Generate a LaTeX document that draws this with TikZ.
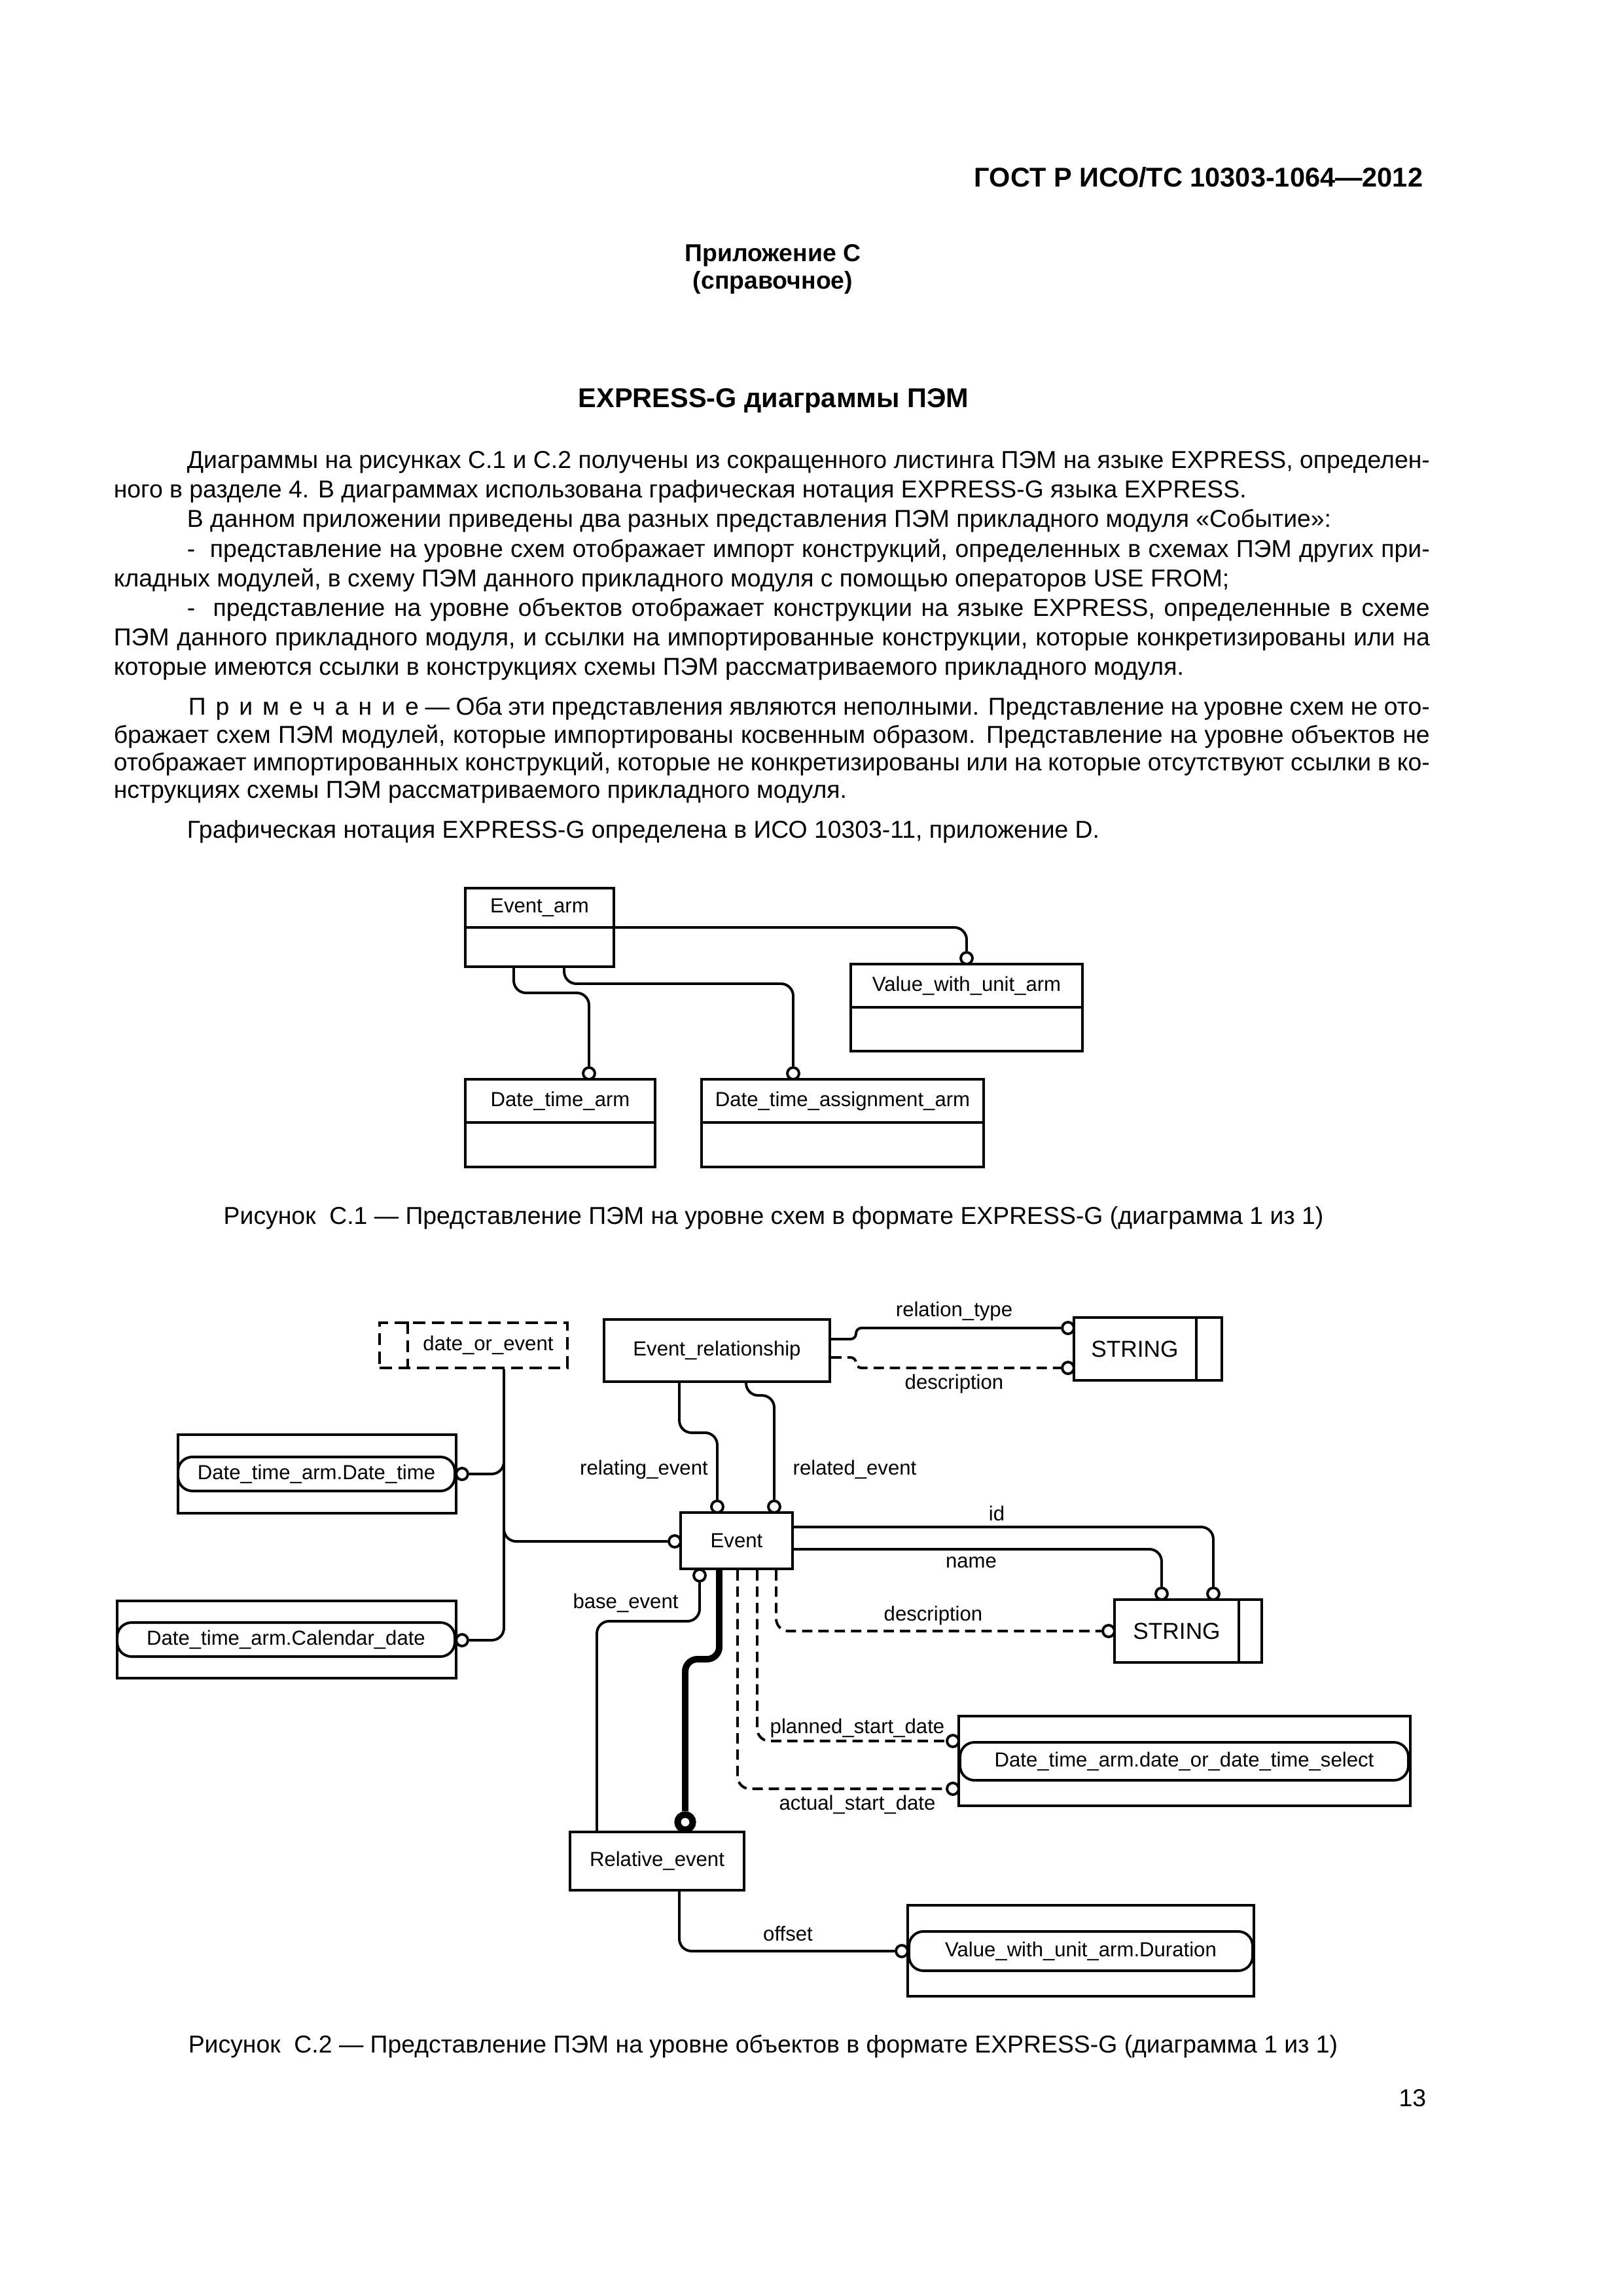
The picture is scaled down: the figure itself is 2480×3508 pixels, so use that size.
\documentclass[tikz,border=0pt]{standalone}
\usepackage{fontspec}
\setmainfont{Liberation Sans}
\usetikzlibrary{positioning,fit,calc}
\newdimen\pxu \pxu=0.084667mm

\begin{document}
\begin{tikzpicture}[x=0.084667mm,y=-0.084667mm,
                txt/.style={inner sep=0pt,font=\fontsize{9}{10.8}\selectfont},
                lbl/.style={inner sep=0pt,font=\fontsize{7.5}{9}\selectfont},
                ent/.style={draw,line width=0.95pt,inner sep=0pt},
                pill/.style={ent,rounded corners=5.3pt},
                dbox/.style={ent,dash pattern=on 4.5pt off 2.4pt},
                oc/.style={circle,draw,fill=white,line width=0.95pt,
                           inner sep=0pt,minimum size=4.3pt},
                boc/.style={oc,line width=2.4pt,minimum size=5.6pt},
                conn/.style={line width=0.95pt,rounded corners=4.5pt},
                dconn/.style={conn,dash pattern=on 3.8pt off 2.2pt},
                sub/.style={line width=2.4pt,rounded corners=4.5pt}]
\useasboundingbox[fill=white] (0,0) rectangle (2480,3508);

% шапка и текст
\node[txt,anchor=base east,font=\fontsize{10}{12}\selectfont\bfseries]
     (gost) at (2175,285) {ГОСТ Р ИСО/ТС 10303-1064—2012};
\node[txt,anchor=base,font=\fontsize{9}{10.8}\selectfont\bfseries]
     (app) at (1181,399) {Приложение С};
\node[txt,anchor=base,font=\fontsize{9}{10.8}\selectfont\bfseries]
     (appref) at (1181,441) {(справочное)};
\node[txt,anchor=base,font=\fontsize{10}{12}\selectfont\bfseries]
     (title) at (1182,622) {EXPRESS-G диаграммы ПЭМ};

\node[txt,anchor=base west] (p1) at (285,715) {\makebox[1899\pxu][s]{Диаграммы на рисунках С.1 и С.2 получены из сокращенного листинга ПЭМ на языке EXPRESS, определен-}};
\node[txt,anchor=base west] (p2) at (173,760) {ного в разделе 4. В диаграммах использована графическая нотация EXPRESS-G языка EXPRESS.};
\node[txt,anchor=base west] (p3) at (285,805) {В данном приложении приведены два разных представления ПЭМ прикладного модуля «Событие»:};
\node[txt,anchor=base west] (p4) at (285,851) {\makebox[1899\pxu][s]{-\ \ представление на уровне схем отображает импорт конструкций, определенных в схемах ПЭМ других при-}};
\node[txt,anchor=base west] (p5) at (173,896) {кладных модулей, в схему ПЭМ данного прикладного модуля с помощью операторов USE FROM;};
\node[txt,anchor=base west] (p6) at (285,941) {\makebox[1899\pxu][s]{-\ \ представление на уровне объектов отображает конструкции на языке EXPRESS, определенные в схеме}};
\node[txt,anchor=base west] (p7) at (173,986) {\makebox[2011\pxu][s]{ПЭМ данного прикладного модуля, и ссылки на импортированные конструкции, которые конкретизированы или на}};
\node[txt,anchor=base west] (p8) at (173,1031) {которые имеются ссылки в конструкциях схемы ПЭМ рассматриваемого прикладного модуля.};
\node[txt,anchor=base west] (n1) at (287,1092) {\makebox[1897\pxu][s]{П\kern3.6pt р\kern3.6pt и\kern3.6pt м\kern3.6pt е\kern3.6pt ч\kern3.6pt а\kern3.6pt н\kern3.6pt и\kern3.6pt е — Оба эти представления являются неполными. Представление на уровне схем не ото-}};
\node[txt,anchor=base west] (n2) at (173,1135) {\makebox[2011\pxu][s]{бражает схем ПЭМ модулей, которые импортированы косвенным образом. Представление на уровне объектов не}};
\node[txt,anchor=base west] (n3) at (173,1177) {\makebox[2011\pxu][s]{отображает импортированных конструкций, которые не конкретизированы или на которые отсутствуют ссылки в ко-}};
\node[txt,anchor=base west] (n4) at (173,1219) {нструкциях схемы ПЭМ рассматриваемого прикладного модуля.};
\node[txt,anchor=base west] (p9) at (285,1280) {Графическая нотация EXPRESS-G определена в ИСО 10303-11, приложение D.};

% рисунок С.1
\node[ent,fit={(711,1357) (938,1477)}] (evarm) {};
\draw[ent] (evarm.west |- 0,1417) -- (evarm.east |- 0,1417);
\node[lbl] (evarmt) at (824.5,1387) {Event\_arm};
\node[ent,fit={(1300,1473) (1654,1606)}] (vwu) {};
\draw[ent] (vwu.west |- 0,1539) -- (vwu.east |- 0,1539);
\node[lbl] (vwut) at (1477,1506) {Value\_with\_unit\_arm};
\node[ent,fit={(711,1649) (1001,1783)}] (dta) {};
\draw[ent] (dta.west |- 0,1715) -- (dta.east |- 0,1715);
\node[lbl] (dtat) at (856,1682) {Date\_time\_arm};
\node[ent,fit={(1072,1649) (1503,1783)}] (dtas) {};
\draw[ent] (dtas.west |- 0,1715) -- (dtas.east |- 0,1715);
\node[lbl] (dtast) at (1287.5,1682) {Date\_time\_assignment\_arm};

\node[oc] (cvwu) at (1477,1464) {};
\node[oc] (cdta) at (900,1640) {};
\node[oc] (cdtas) at (1212,1640) {};
\draw[conn] (evarm.east |- 0,1417) -| (cvwu);
\draw[conn] (evarm.south -| 785,0) |- (cdta |- 0,1517) -- (cdta);
\draw[conn] (evarm.south -| 862,0) |- (cdtas |- 0,1503) -- (cdtas);

\node[txt,anchor=base] (cap1) at (1182,1870) {Рисунок\ \ С.1 — Представление ПЭМ на уровне схем в формате EXPRESS-G (диаграмма 1 из 1)};

% рисунок С.2
\node[dbox,fit={(580,2021) (867,2090)}] (doe) {};
\draw[dbox] (doe.north -| 623,0) -- (doe.south -| 623,0);
\node[lbl] (doet) at (746,2055) {date\_or\_event};
\node[ent,fit={(923,2016) (1268,2111)}] (evrel) {};
\node[lbl] (evrelt) at (evrel) {Event\_relationship};
\node[ent,fit={(1641,2013) (1867,2109)}] (str1) {};
\draw[ent] (str1.north -| 1828,0) -- (str1.south -| 1828,0);
\node[lbl,font=\fontsize{8.5}{10}\selectfont] (str1t) at (1734,2061) {STRING};
\node[ent,fit={(1040,2311) (1211,2397)}] (ev) {};
\node[lbl] (evt) at (ev) {Event};
\node[ent,fit={(272,2192) (697,2312)}] (dtdtbox) {};
\node[pill,fit={(272,2226) (695,2278)}] (dtdt) {};
\node[lbl] (dtdtt) at (dtdt) {Date\_time\_arm.Date\_time};
\node[ent,fit={(179,2446) (697,2564)}] (calbox) {};
\node[pill,fit={(179,2479) (695,2531)}] (cal) {};
\node[lbl] (calt) at (cal) {Date\_time\_arm.Calendar\_date};
\node[ent,fit={(1703,2444) (1928,2540)}] (str2) {};
\draw[ent] (str2.north -| 1893,0) -- (str2.south -| 1893,0);
\node[lbl,font=\fontsize{8.5}{10}\selectfont] (str2t) at (1798,2492) {STRING};
\node[ent,fit={(1465,2622) (2155,2759)}] (selbox) {};
\node[pill,fit={(1467,2662) (2152,2720)}] (sel) {};
\node[lbl] (selt) at (sel) {Date\_time\_arm.date\_or\_date\_time\_select};
\node[ent,fit={(871,2799) (1137,2888)}] (rel) {};
\node[lbl] (relt) at (rel) {Relative\_event};
\node[ent,fit={(1387,2911) (1916,3050)}] (durbox) {};
\node[pill,fit={(1389,2951) (1914,3011)}] (dur) {};
\node[lbl] (durt) at (dur) {Value\_with\_unit\_arm.Duration};

\node[oc] (crt) at (1632,2029) {};
\node[oc] (crd) at (1632,2090) {};
\node[oc] (crel) at (1096,2302) {};
\node[oc] (cred) at (1183,2302) {};
\node[oc] (cevl) at (1031,2355) {};
\node[oc] (cdtdt) at (706,2252) {};
\node[oc] (ccal) at (706,2506) {};
\node[oc] (cid) at (1854,2435) {};
\node[oc] (cnm) at (1775,2435) {};
\node[oc] (ced) at (1694,2492) {};
\node[oc] (cps) at (1456,2660) {};
\node[oc] (cas) at (1456,2733) {};
\node[oc] (cbe) at (1069,2407) {};
\node[boc] (csub) at (1047,2784) {};
\node[oc] (coff) at (1378,2981) {};
\coordinate (tdt) at (770,2215);
\coordinate (tev) at (770,2320);

\draw[conn] (doe.south -| 770,0) |- (ccal);
\draw[conn] (tdt) |- (cdtdt);
\draw[conn] (tev) |- (cevl);
\draw[conn,rounded corners=2pt] (evrel.east |- 0,2046) -- (1308,2046) -- (1308,2029) -- (crt);
\draw[dconn,rounded corners=2pt] (evrel.east |- 0,2074) -- (1308,2074) -- (1308,2090) -- (crd);
\draw[conn] (evrel.south -| 1038,0) |- (crel |- 0,2189) -- (crel);
\draw[conn] (evrel.south -| 1140,0) |- (cred |- 0,2132) -- (cred);
\draw[conn] (ev.east |- 0,2333) -| (cid);
\draw[conn] (ev.east |- 0,2367) -| (cnm);
\draw[dconn] (ev.south -| 1186,0) |- (ced);
\draw[dconn] (ev.south -| 1157,0) |- (cps);
\draw[dconn] (ev.south -| 1127,0) |- (cas);
\draw[conn] (cbe) |- (912,2477) -- (rel.north -| 912,0);
\draw[sub] (ev.south -| 1099,0) |- (csub |- 0,2535) -- (csub);
\draw[conn] (rel.south -| 1038,0) |- (coff);

\node[lbl] (lrt) at (1458,2003) {relation\_type};
\node[lbl] (lrd) at (1458,2114) {description};
\node[lbl] (lrel) at (984,2245) {relating\_event};
\node[lbl] (lred) at (1306,2245) {related\_event};
\node[lbl] (lid) at (1523,2312) {id};
\node[lbl] (lnm) at (1484,2387) {name};
\node[lbl] (led) at (1426,2468) {description};
\node[lbl] (lbe) at (956,2449) {base\_event};
\node[lbl] (lps) at (1310,2640) {planned\_start\_date};
\node[lbl] (las) at (1310,2757) {actual\_start\_date};
\node[lbl] (loff) at (1204,2954) {offset};

\node[txt,anchor=base] (cap2) at (1166,3136) {Рисунок\ \ С.2 — Представление ПЭМ на уровне объектов в формате EXPRESS-G (диаграмма 1 из 1)};
\node[txt,anchor=base east] (pgno) at (2180,3218) {13};
\end{tikzpicture}
\end{document}
